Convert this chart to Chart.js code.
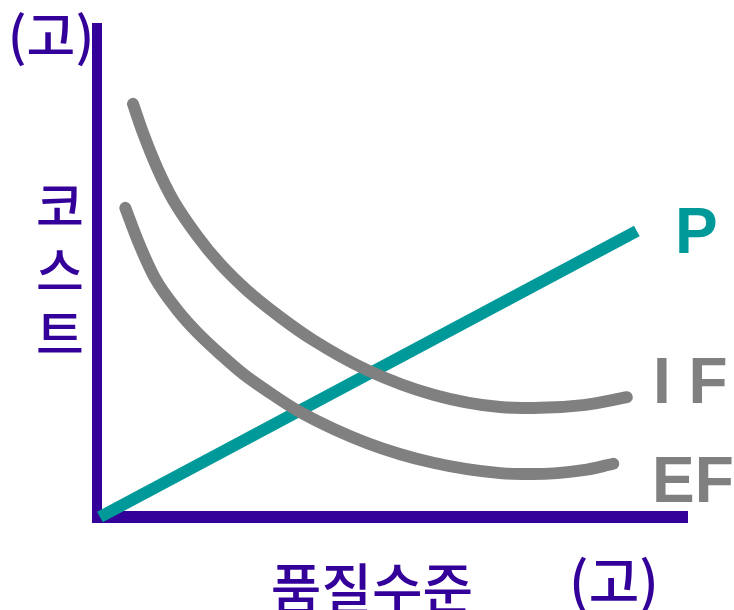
<!DOCTYPE html>
<html>
<head>
<meta charset="utf-8">
<script src="https://cdn.jsdelivr.net/npm/chart.js@4"></script>
<style>
html,body{margin:0;padding:0;background:#fff;}
#wrap{width:734px;height:610px;}
</style>
</head>
<body>
<div id="wrap"><canvas id="c" width="734" height="610"></canvas></div>
<script>
// Data (arbitrary units, x: quality level 0..100, y: cost 0..100)
const ifX = [6.1, 7.8, 10.2, 12.9, 17.0, 20.9, 25.4, 31.0, 36.6, 45.8, 57.0, 68.3, 73.9, 82.4, 89.8];
const ifY = [83.8, 77.9, 70.8, 64.3, 57.0, 51.3, 46.0, 40.6, 35.9, 29.8, 24.8, 22.3, 22.1, 22.7, 24.3];
const efX = [4.8, 7.0, 9.8, 13.6, 17.1, 21.2, 24.8, 28.8, 34.4, 45.8, 57.0, 68.3, 73.9, 82.4, 87.5];
const efY = [62.7, 55.8, 48.5, 42.0, 37.3, 32.7, 29.0, 25.6, 21.3, 15.0, 11.0, 8.9, 8.7, 9.5, 10.8];
const pX = [0.5, 91.5];
const pY = [0, 58];
const seriesLabels = ['I F', 'EF', 'P'];
const axisLabels = {yTop: '(고)', yTitle: ['코', '스', '트'], xTitle: '품질수준', xEnd: '(고)'};

const PURPLE = '#330099', TEAL = '#009999', GRAY = '#808080';
const toPts = (xs, ys) => xs.map((x, i) => ({x: x, y: ys[i]}));

const decor = {
  id: 'decor',
  beforeDatasetsDraw(chart) {
    const {ctx, chartArea: a} = chart;
    ctx.save();
    ctx.fillStyle = PURPLE;
    ctx.fillRect(a.left - 5, a.top - 1, 10, a.bottom - a.top + 7);
    ctx.fillRect(a.left - 5, a.bottom - 6, a.right - a.left + 6, 12);
    ctx.restore();
  },
  afterDraw(chart) {
    const {ctx} = chart;
    ctx.save();
    const kr = '"Noto Sans CJK KR", "Noto Sans CJK SC", sans-serif';
    ctx.fillStyle = PURPLE;
    ctx.textAlign = 'center';
    ctx.textBaseline = 'middle';
    ctx.font = '500 53px ' + kr;
    ctx.fillText(axisLabels.yTop, 51, 36);
    ctx.font = '500 52px ' + kr;
    const ys = [206, 271, 334];
    axisLabels.yTitle.forEach((t, i) => ctx.fillText(t, 60, ys[i]));
    ctx.font = '500 55px ' + kr;
    ctx.fillText(axisLabels.xTitle, 372, 588);
    ctx.font = '500 55px ' + kr;
    ctx.fillText(axisLabels.xEnd, 614, 581);
    ctx.textAlign = 'left';
    ctx.textBaseline = 'alphabetic';
    ctx.font = 'bold 64px "Liberation Sans", Arial, sans-serif';
    ctx.fillStyle = TEAL;
    ctx.fillText(seriesLabels[2], 675, 253);
    ctx.fillStyle = GRAY;
    ctx.fillText(seriesLabels[0], 653, 403);
    ctx.fillText(seriesLabels[1], 652, 502);
    ctx.restore();
  }
};

new Chart(document.getElementById('c'), {
  type: 'line',
  data: {
    datasets: [
      {label: seriesLabels[0], data: toPts(ifX, ifY), borderColor: GRAY, borderWidth: 12, borderCapStyle: 'round', borderJoinStyle: 'round', cubicInterpolationMode: 'monotone', pointRadius: 0, clip: false},
      {label: seriesLabels[1], data: toPts(efX, efY), borderColor: GRAY, borderWidth: 12, borderCapStyle: 'round', borderJoinStyle: 'round', cubicInterpolationMode: 'monotone', pointRadius: 0, clip: false},
      {label: seriesLabels[2], data: toPts(pX, pY), borderColor: TEAL, borderWidth: 12, borderCapStyle: 'butt', tension: 0, pointRadius: 0, clip: false}
    ]
  },
  options: {
    responsive: false,
    animation: false,
    events: [],
    layout: {padding: {left: 97, right: 47, top: 24, bottom: 93}},
    plugins: {legend: {display: false}, tooltip: {enabled: false}},
    scales: {
      x: {type: 'linear', min: 0, max: 100, display: false},
      y: {type: 'linear', min: 0, max: 100, display: false}
    }
  },
  plugins: [decor]
});
</script>
</body>
</html>
